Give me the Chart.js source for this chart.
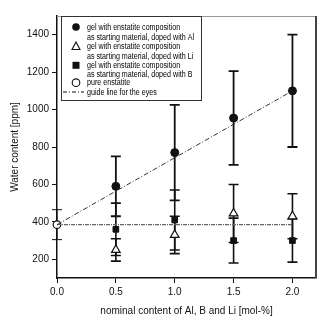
<!DOCTYPE html>
<html>
<head>
<meta charset="utf-8">
<script src="https://cdn.jsdelivr.net/npm/chart.js@4.4.1/dist/chart.umd.min.js"></script>
<style>
  html, body { margin: 0; padding: 0; background: #fff; }
  canvas { display: block; }
</style>
</head>
<body>
<canvas id="grafico" width="333" height="330"></canvas>
<script>
/* Teor de água em enstatita dopada (Al, Li, B) com barras de erro */

const TEORES = [0.5, 1.0, 1.5, 2.0];          // mol-%
const AGUA_AL = [590, 770, 955, 1100];         // ppm
const ERRO_AL = [160, 255, 250, 300];
const AGUA_LI = [250, 330, 445, 430];
const ERRO_LI = [60, 100, 155, 120];
const AGUA_B = [360, 410, 300, 300];
const ERRO_B = [140, 160, 120, 115];
const PURA_X = [0.0];
const PURA = [385];
const ERRO_PURA = [80];
const GUIA_X = [0.0, 2.0];
const GUIA_AL = [385, 1100];
const GUIA_BASE = [385, 385];

const TICKS_X = [0.0, 0.5, 1.0, 1.5, 2.0];
const TICKS_Y = [200, 400, 600, 800, 1000, 1200, 1400];

const LEGENDA = [
  ['circulo', 'gel with enstatite composition'],
  [null, 'as starting material, doped with Al'],
  ['triangulo', 'gel with enstatite composition'],
  [null, 'as starting material, doped with Li'],
  ['quadrado', 'gel with enstatite composition'],
  [null, 'as starting material, doped with B'],
  ['aberto', 'pure enstatite'],
  ['linha', 'guide line for the eyes']
];

const FONTE = "'Liberation Sans', Arial, sans-serif";

function pontos(xs, ys) {
  return xs.map((x, i) => ({ x, y: ys[i] }));
}

// barras de erro verticais desenhadas pelas escalas do gráfico
const barrasErro = {
  id: 'barrasErro',
  beforeDatasetsDraw(chart) {
    const ctx = chart.ctx, ys = chart.scales.y;
    chart.data.datasets.forEach((d, di) => {
      if (!d.erros) return;
      const meta = chart.getDatasetMeta(di);
      meta.data.forEach((p, i) => {
        const v = d.data[i].y, e = d.erros[i];
        const y1 = ys.getPixelForValue(v + e), y2 = ys.getPixelForValue(v - e);
        ctx.save();
        ctx.strokeStyle = '#111';
        ctx.lineWidth = d.larguraErro || 1.6;
        ctx.beginPath();
        ctx.moveTo(p.x, y1); ctx.lineTo(p.x, y2);
        ctx.moveTo(p.x - 5, y1); ctx.lineTo(p.x + 5, y1);
        ctx.moveTo(p.x - 5, y2); ctx.lineTo(p.x + 5, y2);
        ctx.stroke();
        ctx.restore();
      });
    });
  }
};

// moldura do gráfico e legenda em caixa
const moldura = {
  id: 'moldura',
  afterDraw(chart) {
    const ctx = chart.ctx, a = chart.chartArea;
    ctx.save();
    ctx.strokeStyle = '#9a9a9a';
    ctx.lineWidth = 1;
    ctx.beginPath();
    ctx.moveTo(a.left, a.top + 0.5); ctx.lineTo(a.right, a.top + 0.5);
    ctx.stroke();
    ctx.strokeStyle = '#444';
    ctx.lineWidth = 2;
    ctx.beginPath();
    ctx.moveTo(a.right, a.top); ctx.lineTo(a.right, a.bottom);
    ctx.stroke();

    // caixa da legenda
    const bx = a.left + 4, by = a.top, bw = 140, bh = 84;
    ctx.fillStyle = '#fff';
    ctx.fillRect(bx, by, bw, bh);
    ctx.strokeStyle = '#333';
    ctx.lineWidth = 1;
    ctx.strokeRect(bx + 0.5, by + 0.5, bw, bh);

    const linhas = [11, 21, 30, 40, 49.3, 58, 66.7, 76];
    const mx = bx + 15, tx = bx + 26;
    ctx.font = '9.6px ' + FONTE;
    ctx.textBaseline = 'middle';
    // texto condensado: a linha mais longa ocupa 107 px
    const esc = 107 / ctx.measureText(LEGENDA[1][1]).width;
    LEGENDA.forEach(([sim, txt], i) => {
      const y = by + linhas[i];
      ctx.fillStyle = '#111';
      ctx.strokeStyle = '#111';
      ctx.lineWidth = 1.1;
      if (sim === 'circulo') {
        ctx.beginPath(); ctx.arc(mx, y, 3.8, 0, Math.PI * 2); ctx.fill();
      } else if (sim === 'triangulo') {
        ctx.beginPath();
        ctx.moveTo(mx, y - 4); ctx.lineTo(mx + 4, y + 3.5); ctx.lineTo(mx - 4, y + 3.5);
        ctx.closePath(); ctx.stroke();
      } else if (sim === 'quadrado') {
        ctx.fillRect(mx - 3.5, y - 3.5, 7, 7);
      } else if (sim === 'aberto') {
        ctx.beginPath(); ctx.arc(mx, y, 3.8, 0, Math.PI * 2); ctx.stroke();
      } else if (sim === 'linha') {
        ctx.lineWidth = 1;
        ctx.setLineDash([4, 2, 1, 2]);
        ctx.beginPath(); ctx.moveTo(bx + 2, y); ctx.lineTo(bx + 23, y); ctx.stroke();
        ctx.setLineDash([]);
      }
      ctx.save();
      ctx.translate(tx, y);
      ctx.scale(esc, 1);
      ctx.fillStyle = '#000';
      ctx.fillText(txt, 0, 0);
      ctx.restore();
    });
    ctx.restore();
  }
};

new Chart(document.getElementById('grafico'), {
  type: 'scatter',
  data: {
    datasets: [
      { label: 'guia Al', type: 'line', data: pontos(GUIA_X, GUIA_AL), borderColor: '#333',
        borderWidth: 1, borderDash: [5, 2, 1, 2], pointRadius: 0, fill: false },
      { label: 'guia base', type: 'line', data: pontos(GUIA_X, GUIA_BASE), borderColor: '#666',
        borderWidth: 1.2, borderDash: [4, 1, 1, 1], pointRadius: 0, fill: false },
      { label: 'Al', data: pontos(TEORES, AGUA_AL), erros: ERRO_AL, larguraErro: 1.8,
        pointStyle: 'circle', pointRadius: 4, backgroundColor: '#111', borderColor: '#111' },
      { label: 'Li', data: pontos(TEORES, AGUA_LI), erros: ERRO_LI,
        pointStyle: 'triangle', pointRadius: 5, backgroundColor: '#fff', borderColor: '#111', borderWidth: 1.2 },
      { label: 'B', data: pontos(TEORES, AGUA_B), erros: ERRO_B,
        pointStyle: 'rect', pointRadius: 4, backgroundColor: '#111', borderColor: '#111' },
      { label: 'pura', data: pontos(PURA_X, PURA), erros: ERRO_PURA, larguraErro: 1, clip: false,
        pointStyle: 'circle', pointRadius: 3.8, backgroundColor: '#fff', borderColor: '#111', borderWidth: 1.2 }
    ]
  },
  options: {
    responsive: false,
    animation: false,
    layout: { padding: { top: 16, right: 17, left: 0, bottom: 0 } },
    plugins: { legend: { display: false }, tooltip: { enabled: false } },
    scales: {
      x: {
        type: 'linear', min: 0, max: 2.2,
        afterBuildTicks: s => { s.ticks = TICKS_X.map(v => ({ value: v })); },
        afterFit: s => { s.height = 52; },
        ticks: { color: '#111', font: { family: FONTE, size: 10 }, padding: 3,
                 callback: v => v.toFixed(1), maxRotation: 0 },
        grid: { drawOnChartArea: false, tickLength: 5, color: '#111', lineWidth: 1 },
        border: { color: '#111', width: 1.5 },
        title: { display: true, text: 'nominal content of Al, B and Li [mol-%]', color: '#111',
                 font: { family: FONTE, size: 10 }, padding: { top: 4, bottom: 13 } }
      },
      y: {
        min: 100, max: 1500,
        afterBuildTicks: s => { s.ticks = TICKS_Y.map(v => ({ value: v })); },
        afterFit: s => { s.width = 57; },
        ticks: { color: '#111', font: { family: FONTE, size: 10 }, padding: 3,
                 callback: v => String(v) },
        grid: { drawOnChartArea: false, tickLength: 5, color: '#111', lineWidth: 1 },
        border: { color: '#111', width: 1.5 },
        title: { display: true, text: 'Water content [ppm]', color: '#111',
                 font: { family: FONTE, size: 10 }, padding: { top: 9, bottom: 4 } }
      }
    }
  },
  plugins: [barrasErro, moldura]
});
</script>
</body>
</html>
